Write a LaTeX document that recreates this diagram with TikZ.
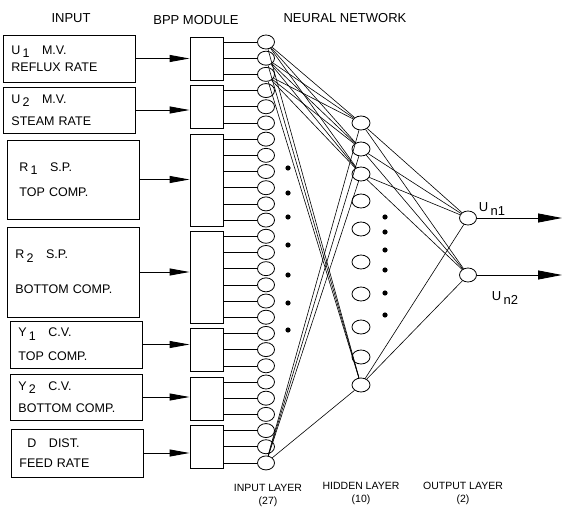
\documentclass[tikz,border=0pt]{standalone}
\usepackage{fontspec}
\setmainfont{Liberation Sans}
\usetikzlibrary{arrows.meta, shapes.geometric, positioning}
\newcommand{\lowidx}[1]{\raisebox{-0.5ex}{#1}}

\begin{document}
\begin{tikzpicture}[x=1pt, y=-1pt,
    inbox/.style={draw, line width=0.9pt, anchor=west, align=left, text width=116pt,
      inner xsep=8pt, inner ysep=0pt, font=\fontsize{12.5}{13}\selectfont},
    bppbox/.style={draw, line width=0.9pt, minimum width=33pt, inner sep=0pt},
    neuron/.style={draw, ellipse, line width=0.8pt, inner sep=0pt,
      minimum width=17pt, minimum height=14pt},
    feed/.style={line width=0.9pt, -{Triangle[length=20pt, width=7pt]}},
    link/.style={line width=0.6pt},
    head/.style={font=\fontsize{13}{14}\selectfont},
    layer/.style={font=\fontsize{10.5}{13}\selectfont, align=center}]
  \useasboundingbox (0,0) rectangle (562,513);

  % headings
  \node[head] (hIn) at (71,18) {INPUT};
  \node[head] (hBpp) at (196,20) {BPP MODULE};
  \node[head] (hNet) at (345,18) {NEURAL NETWORK};

  % input signals
  \node[inbox, minimum height=47pt] (sig1) at (3,58.5) {U\,\lowidx{1}\quad M.V.\\[4pt]REFLUX RATE};
  \node[inbox, minimum height=46pt] (sig2) at (3,110) {U\,\lowidx{2}\quad M.V.\\[9pt]STEAM RATE};
  \node[inbox, minimum height=79pt] (sig3) at (7,179.5) {\hspace*{4pt}R\,\lowidx{1}\quad S.P.\\[12pt]\hspace*{4pt}TOP COMP.};
  \node[inbox, minimum height=90pt] (sig4) at (7,272) {R\,\lowidx{2}\quad S.P.\\[22pt]BOTTOM COMP.};
  \node[inbox, minimum height=47pt] (sig5) at (10,344.5) {Y\,\lowidx{1}\quad C.V.\\[11pt]TOP COMP.};
  \node[inbox, minimum height=46pt] (sig6) at (10,397) {Y\,\lowidx{2}\quad C.V.\\[9pt]BOTTOM COMP.};
  \node[inbox, minimum height=48pt] (sig7) at (11,453) {\hspace*{8pt}D\quad DIST.\\[7pt]FEED RATE};

  % input layer (27)
  \foreach \i in {1,...,27}{
    \pgfmathsetmacro\yy{42+(\i-1)*16.19}
    \node[neuron] (ni\i) at (266,\yy) {};
  }

  % bpp modules and their outputs
  \foreach \g/\a/\b in {1/1/3, 2/4/6, 3/7/12, 4/13/18, 5/19/21, 6/22/24, 7/25/27}{
    \pgfmathsetmacro\ytop{42+(\a-1)*16.19-5}
    \pgfmathsetmacro\ybot{42+(\b-1)*16.19+6}
    \pgfmathsetmacro\hgt{\ybot-\ytop}
    \node[bppbox, minimum height=\hgt pt] (bpp\g) at (206.5,{(\ytop+\ybot)/2}) {};
    \draw[feed] (sig\g.east) -- (sig\g.east -| bpp\g.west);
    \foreach \i in {\a,...,\b}
      \draw[link] (bpp\g.east |- ni\i.west) -- (ni\i.west);
  }

  % hidden layer (10)
  \foreach \k/\yy in {1/123, 2/149, 3/174, 4/201, 5/229, 6/262, 7/294, 8/327, 9/357, 10/385}
    \node[neuron, minimum width=18pt] (nh\k) at (361,\yy) {};

  % output layer (2)
  \node[neuron] (no1) at (468,218) {};
  \node[neuron] (no2) at (468,275) {};
  \coordinate (out1) at (562,218);
  \coordinate (out2) at (562,275);
  \draw[line width=0.9pt, -{Triangle[length=24pt, width=9pt]}] (no1) -- (out1);
  \draw[line width=0.9pt, -{Triangle[length=24pt, width=9pt]}] (no2) -- (out2);
  \node[head] (lbl1) at (492,209) {U\,\lowidx{n1}};
  \node[head] (lbl2) at (505,298) {U\,\lowidx{n2}};

  % weights shown
  \foreach \i in {1,2,3,27}
    \foreach \k in {1,2,3,10}
      \draw[link] (ni\i) -- (nh\k);
  \foreach \k in {1,2,3,10}
    \foreach \o in {1,2}
      \draw[link] (nh\k) -- (no\o);

  % dots
  \foreach \yy in {168,193,217,245,275,303,330}
    \fill (288,\yy) circle (2.6pt);
  \foreach \yy in {217,232,250,270,293,315}
    \fill (385,\yy) circle (2.6pt);

  % layer names
  \node[layer] (lIn) at (268,495) {INPUT LAYER\\(27)};
  \node[layer] (lHid) at (361,493) {HIDDEN LAYER\\(10)};
  \node[layer] (lOut) at (463,493) {OUTPUT LAYER\\(2)};
\end{tikzpicture}
\end{document}
